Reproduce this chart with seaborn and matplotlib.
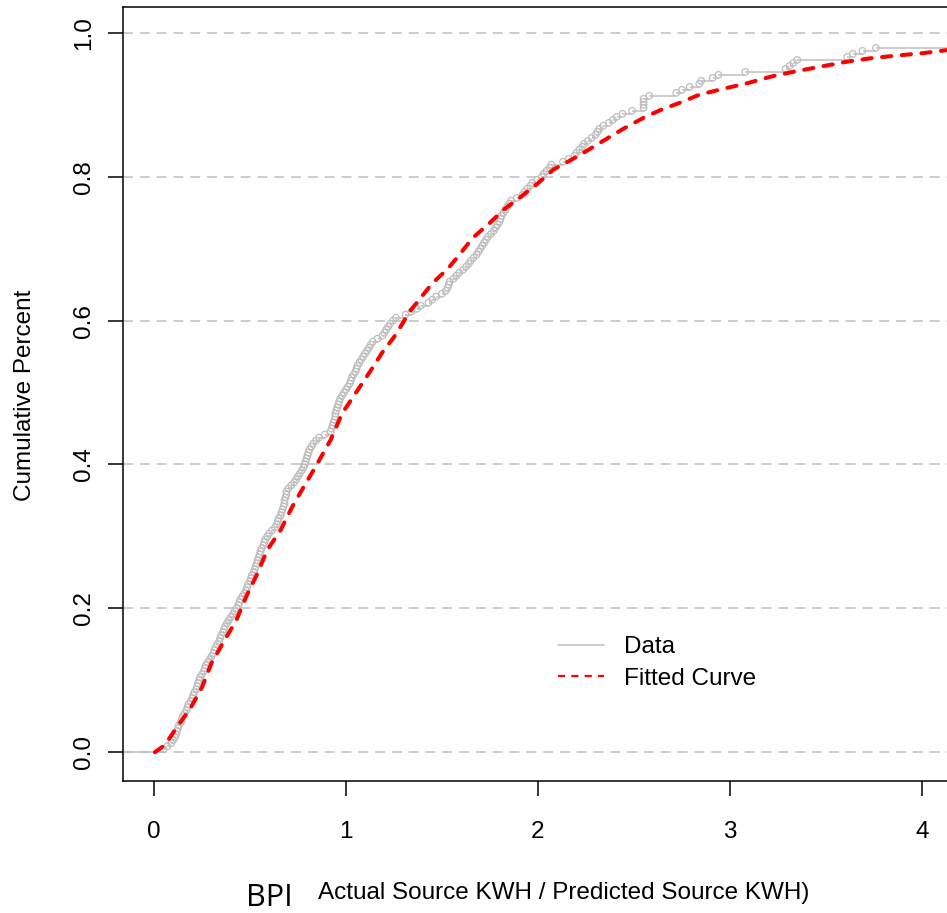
import numpy as np
import matplotlib
matplotlib.use("Agg")
import matplotlib.pyplot as plt
from matplotlib.lines import Line2D
import seaborn as sns

bpi = [0.05, 0.07, 0.09, 0.10, 0.11, 0.115, 0.12, 0.125, 0.13, 0.14,
       0.145, 0.15, 0.16, 0.17, 0.175, 0.18, 0.19, 0.20, 0.205, 0.21,
       0.22, 0.225, 0.23, 0.235, 0.24, 0.25, 0.26, 0.265, 0.27, 0.28,
       0.29, 0.30, 0.31, 0.315, 0.32, 0.33, 0.34, 0.345, 0.35, 0.36,
       0.365, 0.37, 0.38, 0.39, 0.40, 0.41, 0.42, 0.43, 0.44, 0.445,
       0.45, 0.46, 0.47, 0.48, 0.485, 0.49, 0.50, 0.505, 0.51, 0.52,
       0.525, 0.53, 0.535, 0.54, 0.545, 0.55, 0.555, 0.56, 0.57, 0.575,
       0.58, 0.59, 0.60, 0.615, 0.63, 0.64, 0.645, 0.65, 0.66, 0.665,
       0.67, 0.675, 0.68, 0.68, 0.685, 0.69, 0.69, 0.70, 0.715, 0.73,
       0.74, 0.75, 0.76, 0.77, 0.78, 0.785, 0.79, 0.795, 0.80, 0.805,
       0.81, 0.82, 0.83, 0.845, 0.86, 0.89, 0.92, 0.925, 0.93, 0.935,
       0.94, 0.945, 0.945, 0.95, 0.955, 0.96, 0.965, 0.97, 0.98, 0.99,
       1.00, 1.01, 1.02, 1.025, 1.03, 1.04, 1.05, 1.055, 1.06, 1.07,
       1.08, 1.09, 1.10, 1.11, 1.12, 1.13, 1.14, 1.165, 1.19, 1.20,
       1.21, 1.22, 1.23, 1.245, 1.26, 1.31, 1.34, 1.37, 1.39, 1.43,
       1.45, 1.47, 1.50, 1.52, 1.53, 1.535, 1.54, 1.56, 1.575, 1.59,
       1.61, 1.625, 1.64, 1.65, 1.665, 1.68, 1.69, 1.70, 1.71, 1.72,
       1.73, 1.74, 1.755, 1.77, 1.78, 1.79, 1.80, 1.805, 1.81, 1.82,
       1.83, 1.84, 1.85, 1.86, 1.89, 1.92, 1.93, 1.945, 1.96, 1.97,
       1.995, 2.02, 2.03, 2.045, 2.06, 2.07, 2.13, 2.16, 2.19, 2.20,
       2.215, 2.23, 2.24, 2.26, 2.28, 2.30, 2.31, 2.32, 2.34, 2.37,
       2.39, 2.41, 2.44, 2.49, 2.55, 2.55, 2.55, 2.55, 2.58, 2.72,
       2.75, 2.79, 2.84, 2.85, 2.91, 2.94, 3.08, 3.29, 3.31, 3.33,
       3.35, 3.61, 3.64, 3.69, 3.76, 4.35, 4.60, 5.20, 6.10, 7.40]

# fitted distribution curve
fit_x = [0.005, 0.057, 0.12, 0.19, 0.25, 0.30, 0.36, 0.43, 0.48, 0.54,
         0.59, 0.66, 0.72, 0.78, 0.84, 0.92, 0.98, 1.06, 1.13, 1.19,
         1.25, 1.29, 1.33, 1.39, 1.45, 1.53, 1.58, 1.66, 1.75, 1.82,
         1.91, 2.00, 2.08, 2.17, 2.26, 2.34, 2.44, 2.55, 2.64, 2.74,
         2.84, 2.96, 3.09, 3.21, 3.33, 3.47, 3.61, 3.74, 3.89, 4.01,
         4.13, 4.40]
fit_y = [0.0, 0.010, 0.035, 0.061, 0.090, 0.124, 0.152, 0.184, 0.216, 0.249,
         0.281, 0.309, 0.341, 0.369, 0.396, 0.434, 0.471, 0.503, 0.531, 0.556,
         0.577, 0.594, 0.612, 0.632, 0.652, 0.672, 0.688, 0.715, 0.736, 0.754,
         0.772, 0.791, 0.810, 0.823, 0.837, 0.850, 0.866, 0.882, 0.893, 0.903,
         0.914, 0.922, 0.930, 0.939, 0.946, 0.953, 0.960, 0.965, 0.969, 0.972,
         0.976, 0.980]

x_ticks = [0, 1, 2, 3, 4]
y_ticks = [0.0, 0.2, 0.4, 0.6, 0.8, 1.0]

grey = "#bebebe"
sns.set_style("white")
plt.rcParams["font.family"] = ["Liberation Sans", "DejaVu Sans"]
plt.rcParams["text.color"] = "black"

W, H = 947, 913
fig = plt.figure(figsize=(W / 100, H / 100), dpi=100)
ax = fig.add_axes([123 / W, (H - 781) / H, (W - 123) / W, (781 - 7) / H])

# gridlines
for yv in y_ticks:
    ax.axhline(yv, color=grey, lw=1.1, ls=(0, (6.5, 4.5)), zorder=0)

# ECDF of the data: horizontal steps plus open circles
n = len(bpi)
xs = np.array(bpi)
ys = np.arange(1, n + 1) / n
ax.hlines(0, -1, xs[0], color=grey, lw=1.1, zorder=1)
ax.hlines(ys, xs, np.append(xs[1:], 10), color=grey, lw=1.1, zorder=1)
sns.scatterplot(x=xs, y=ys, ax=ax, marker="o", s=22, facecolor="none",
                edgecolor=grey, linewidth=0.9, zorder=2)

# fitted curve
sns.lineplot(x=fit_x, y=fit_y, ax=ax, sort=False, estimator=None, color="red", zorder=3)
fit_line = ax.lines[-1]
fit_line.set_linewidth(2.9)
fit_line.set_dashes((2.3, 2.6))
fit_line.set_dash_capstyle("round")

ax.set_xlim(-0.161, 4.13)
ax.set_ylim(-0.040, 1.036)
ax.set_xticks(x_ticks)
ax.set_xticklabels([str(v) for v in x_ticks])
ax.set_yticks(y_ticks)
ax.set_yticklabels([f"{v:.1f}" for v in y_ticks], rotation=90, va="center")
ax.tick_params(axis="both", direction="out", length=11, width=1.1,
               colors="black", labelsize=17.5, bottom=True, left=True)
ax.tick_params(axis="x", pad=18)
ax.tick_params(axis="y", pad=9)
ax.set_xlabel("")
ax.set_ylabel("")
for side in ["left", "bottom", "top"]:
    ax.spines[side].set_visible(True)
    ax.spines[side].set_color("black")
    ax.spines[side].set_linewidth(1.1)
ax.spines["right"].set_visible(False)

fig.text(25 / W, 1 - 395 / H, "Cumulative Percent", rotation=90,
         ha="center", va="center", fontsize=17.5, color="black")
fig.text(564 / W, 1 - 893 / H, "Actual Source KWH / Predicted Source KWH)",
         ha="center", va="center", fontsize=17.5, color="black")
fig.text(269 / W, 1 - 906 / H, "BPI", ha="center", va="baseline",
         fontsize=22, color="black", family=["Open Sans", "DejaVu Sans"])

handles = [Line2D([], [], color=grey, lw=1.1),
           Line2D([], [], color="red", lw=1.6, dashes=(3.2, 2.8))]
leg = fig.legend(handles, ["Data", "Fitted Curve"], loc="upper left",
                 bbox_to_anchor=(546 / W, 1 - 624 / H), frameon=False,
                 fontsize=17.5, handlelength=1.9, handletextpad=0.8,
                 labelspacing=0.4, borderpad=0)
for t in leg.get_texts():
    t.set_color("black")

fig.savefig("out.png", dpi=100)
